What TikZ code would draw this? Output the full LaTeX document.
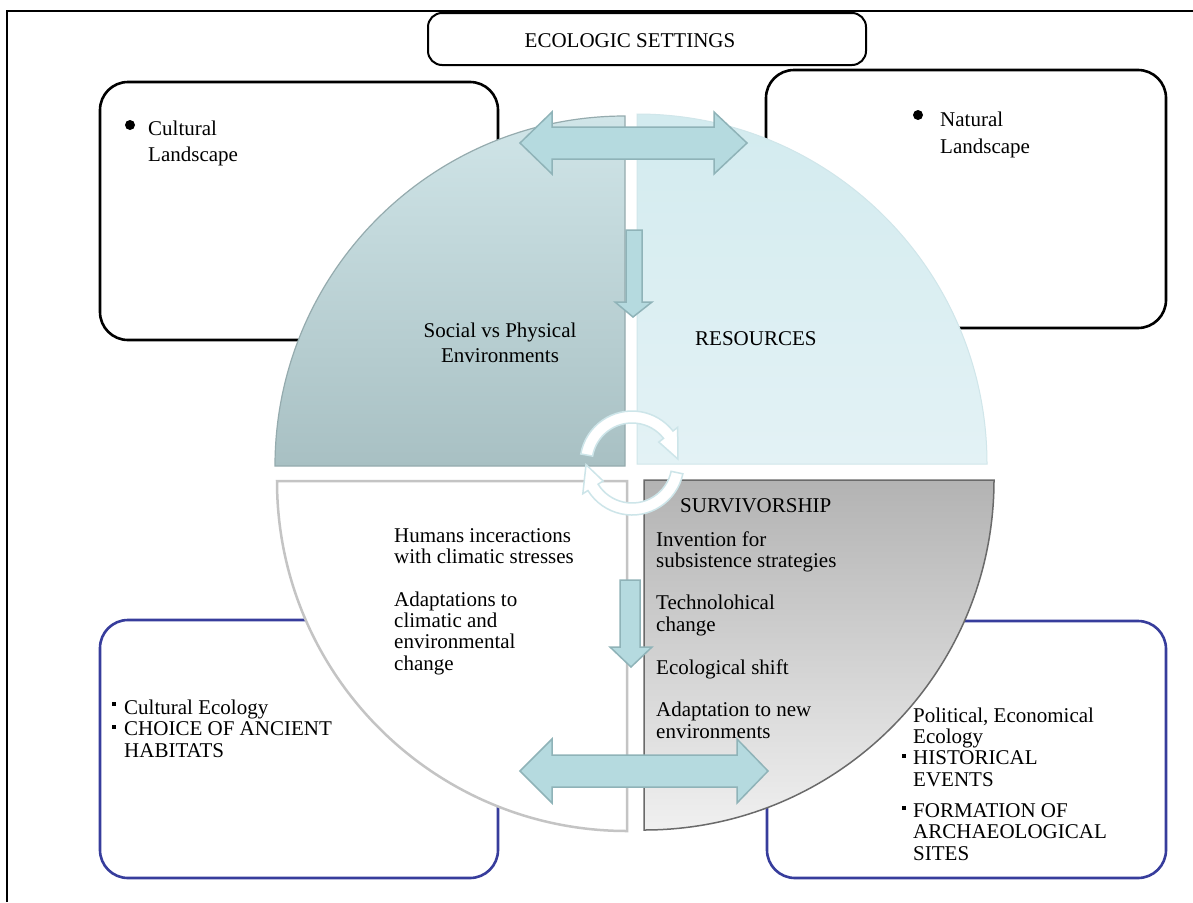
\documentclass[tikz,border=0pt]{standalone}
\usepackage{fontspec}
\setmainfont{Liberation Serif}
\definecolor{navy}{HTML}{373D9C}
\definecolor{arrowfill}{HTML}{B5DADF}
\definecolor{arrowedge}{HTML}{8FB3B8}
\definecolor{tltop}{HTML}{D0E5E8}
\definecolor{tlbot}{HTML}{A8C0C3}
\definecolor{tledge}{HTML}{95ABAE}
\definecolor{trtop}{HTML}{D3EBEF}
\definecolor{trbot}{HTML}{E3F2F5}
\definecolor{tredge}{HTML}{D0E6EA}
\definecolor{bledge}{HTML}{C4C4C4}
\definecolor{brtop}{HTML}{B3B3B3}
\definecolor{brbot}{HTML}{F0F0F0}
\definecolor{bredge}{HTML}{6A6A6A}
\definecolor{cycedge}{HTML}{CDE5E9}
\begin{document}
\begin{tikzpicture}[x=1pt,y=-1pt,
  txt/.style={font=\fontsize{21}{21.3}\selectfont, inner sep=0pt, align=left, anchor=base west},
  blkbox/.style={draw=black, line width=2.6pt, rounded corners=28pt, fill=white, inner sep=0pt},
  bluebox/.style={draw=navy, line width=2.6pt, rounded corners=28pt, fill=white, inner sep=0pt},
  fatarrow/.style={fill=arrowfill, draw=arrowedge, line width=1.5pt, line join=miter},
  cycarrow/.style={fill=white, draw=cycedge, line width=1.5pt}]
\useasboundingbox (0,0) rectangle (1193,902);
\fill[white] (0,0) rectangle (1193,902);
\draw[line width=1.5pt] (7,902) -- (7,11) -- (1193,11);

% boxes
\node[draw=black, line width=2pt, rounded corners=14pt, fill=white, inner sep=0pt,
      minimum width=438, minimum height=52] (eco) at (647,39) {};
\node[blkbox, minimum width=398, minimum height=258] (cult) at (299,211) {};
\node[blkbox, minimum width=400, minimum height=258] (nat) at (966,199) {};
\node[bluebox, minimum width=398, minimum height=258] (cecol) at (299,749) {};
\node[bluebox, minimum width=399, minimum height=257] (pecol) at (966.5,749.5) {};

% quadrants
\path[draw=tledge, line width=1.2pt, top color=tltop, bottom color=tlbot]
  (625,466) -- (275,466) arc[start angle=180, end angle=270, radius=350] -- cycle;
\path[draw=tredge, line width=1pt, top color=trtop, bottom color=trbot]
  (637,464) -- (637,114) arc[start angle=270, end angle=360, radius=350] -- cycle;
\path[draw=bledge, line width=2.5pt, fill=white]
  (627,481) -- (277,481) arc[start angle=180, end angle=90, radius=350] -- cycle;
\path[draw=bredge, line width=1.5pt, top color=brtop, bottom color=brbot]
  (644,480) -- (994,480) arc[start angle=0, end angle=90, radius=350] -- cycle;

% block arrows
\draw[fatarrow] (520,143) -- (552,112) -- (552,127) -- (714,127) -- (714,112) -- (747,143)
  -- (714,174) -- (714,159) -- (552,159) -- (552,174) -- cycle;
\draw[fatarrow] (520,771) -- (552,739) -- (552,755) -- (737,755) -- (737,739) -- (768,771)
  -- (737,803) -- (737,787) -- (552,787) -- (552,803) -- cycle;
\draw[fatarrow] (626,230) -- (642,230) -- (642,302) -- (652,302) -- (633,317) -- (615,302)
  -- (626,302) -- cycle;
\draw[fatarrow] (620,580) -- (640,580) -- (640,647) -- (652,647) -- (631,667) -- (610,647)
  -- (620,647) -- cycle;

% circular arrows
\draw[cycarrow] ([shift={(632,463)}]190:52) arc[start angle=190, end angle=322, radius=52]
  -- ([shift={(632,463)}]322:58) -- ([shift={(632,463)}]355:46) -- ([shift={(632,463)}]322:34)
  -- ([shift={(632,463)}]322:40) arc[start angle=322, end angle=190, radius=40] -- cycle;
\draw[cycarrow] ([shift={(632,463)}]12:52) arc[start angle=12, end angle=148, radius=52]
  -- ([shift={(632,463)}]148:58) -- ([shift={(632,463)}]178:46) -- ([shift={(632,463)}]148:34)
  -- ([shift={(632,463)}]148:40) arc[start angle=148, end angle=12, radius=40] -- cycle;

% bullets
\fill (130,125) circle (5);
\fill (918,115) circle (5);
\fill (112,702) rectangle (116,706);
\fill (112,725) rectangle (116,729);
\fill (902,754) rectangle (906,758);
\fill (902,806) rectangle (906,810);

% texts (base anchor = baseline of the last line)
\node[txt, anchor=base] (ecot) at (630,47) {ECOLOGIC SETTINGS};
\node[txt, font=\fontsize{21}{26}\selectfont] (cultt) at (148,161) {Cultural\\Landscape};
\node[txt, font=\fontsize{21}{27}\selectfont] (natt) at (940,153) {Natural\\Landscape};
\node[txt, align=center, anchor=base, font=\fontsize{21}{25}\selectfont] (soc) at (500,362) {Social vs Physical\\Environments};
\node[txt] (res) at (695,345) {RESOURCES};
\node[txt] (hum) at (394,670) {Humans inceractions\\with climatic stresses\\[21pt]Adaptations to\\climatic and\\environmental\\change};
\node[txt] (surv) at (680,512) {SURVIVORSHIP};
\node[txt] (inv) at (656,738) {Invention for\\subsistence strategies\\[21pt]Technolohical\\change\\[22pt]Ecological shift\\[21pt]Adaptation to new\\environments};
\node[txt] (pol) at (913,860) {Political, Economical\\Ecology\\HISTORICAL\\EVENTS\\[10pt]FORMATION OF\\ARCHAEOLOGICAL\\SITES};
\node[txt] (cec) at (124,757) {Cultural Ecology\\CHOICE OF ANCIENT\\HABITATS};
\end{tikzpicture}
\end{document}
